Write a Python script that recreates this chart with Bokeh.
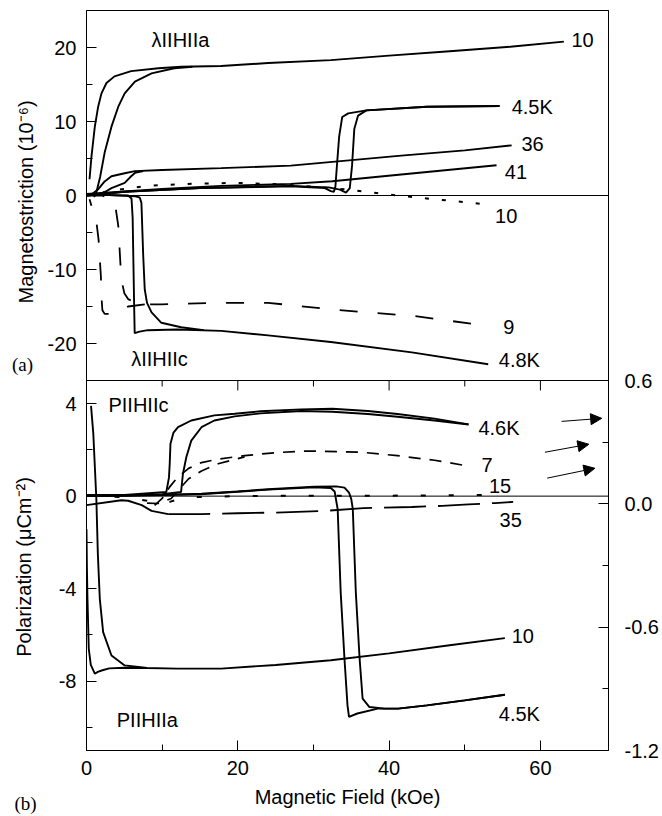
import numpy as np
from bokeh.plotting import figure
from bokeh.layouts import row
from bokeh.models import (Range1d, LinearAxis, FixedTicker, SingleIntervalTicker,
                          Span, Arrow, NormalHead, PrintfTickFormatter)
from bokeh.core.properties import value
from bokeh.embed import file_html
from bokeh.resources import INLINE

FONT = "Liberation Sans"
SERIF = "Liberation Serif"

# ================= (a) magnetostriction (10^-6) =================
# lambda || H || a, 10 K (two sweep branches)
la10_a_x = [0.4, 0.66, 1.1, 1.54, 1.98, 2.64, 3.7, 5.9, 9.5, 12.5, 17.8, 24, 32.3, 40, 48, 56, 63.1]
la10_a_y = [2.2, 5.3, 9.3, 12.0, 13.8, 15.2, 16.1, 16.8, 17.2, 17.4, 17.5, 17.9, 18.3, 18.9, 19.5, 20.1, 20.8]
la10_b_x = [1.0, 1.3, 1.8, 2.4, 3.3, 4.2, 5.05, 6.4, 8.6, 11.6, 14.0]
la10_b_y = [-0.2, 0.4, 2.5, 5.8, 9.3, 12.0, 13.8, 15.4, 16.5, 17.2, 17.4]
# lambda || H || a, 4.5 K
la45_up_x = [0, 5, 15, 27, 32, 33.5, 34.3, 34.8, 35.1, 35.4, 35.9, 37, 45, 54.6]
la45_up_y = [0, 0.5, 1.0, 1.3, 1.1, 0.8, 0.4, 1.0, 4.0, 9.0, 10.8, 11.5, 12.0, 12.1]
la45_dn_x = [54.6, 45, 37, 34.6, 33.8, 33.4, 33.1, 32.9, 32.7, 32.3, 31.5, 27, 15, 5, 0]
la45_dn_y = [12.1, 12.0, 11.5, 11.1, 10.6, 8.0, 4.0, 1.2, 0.5, 0.6, 1.0, 1.25, 1.0, 0.5, 0]
# lambda || H || a, 36 K
la36_a_x = [0.5, 1.5, 2.4, 3.3, 5.05, 6.4, 10, 17.8, 27, 32.5, 41.6, 50, 56.2]
la36_a_y = [0.0, 0.8, 1.9, 2.6, 3.0, 3.3, 3.45, 3.7, 4.04, 4.55, 5.39, 6.1, 6.78]
la36_b_x = [1.0, 2.5, 3.3, 5.05, 5.9, 6.4, 7.5]
la36_b_y = [0.0, 0.5, 1.0, 1.7, 2.6, 3.05, 3.3]
# lambda || H || a, 41 K
la41_x = [0, 5, 10, 17.8, 27, 32.5, 41.6, 54.2]
la41_y = [0.2, 0.55, 0.9, 1.3, 1.57, 1.93, 2.83, 4.08]
# dotted 10 K
la10d_x = [0, 3, 8, 14, 20, 26, 31, 35, 39.3, 44, 48, 52.9]
la10d_y = [0, 0.6, 1.3, 1.6, 1.7, 1.5, 1.1, 0.75, 0.2, -0.3, -0.7, -1.2]
# lambda || H || c, 4.8 K
lc48_a_x = [0, 3, 5.5, 5.95, 6.1, 6.2, 6.3, 6.37, 7, 8.1, 12, 17.8, 24, 32.3, 43, 53.1]
lc48_a_y = [0.1, 0.05, 0.0, -0.4, -3.0, -9.0, -15.0, -18.6, -18.4, -18.2, -18.1, -18.3, -18.9, -19.8, -21.2, -22.8]
lc48_b_x = [0, 3, 6.5, 7.05, 7.26, 7.5, 7.7, 8.0, 8.6, 9.9, 12.5, 15.5]
lc48_b_y = [0.1, 0.05, -0.1, -0.3, -1.0, -8.2, -12.7, -14.5, -15.8, -17.2, -17.8, -18.2]
# lambda || H || c, 9 K (dashed)
lc9_up_x = [0, 2, 3.5, 3.9, 4.2, 4.6, 5.0, 5.5, 6.5, 7.7, 10, 13.4, 18, 24, 32.4, 43.4, 52.9]
lc9_up_y = [0, 0, -0.5, -2.0, -4.1, -11.3, -13.2, -14.0, -14.5, -14.7, -14.7, -14.6, -14.5, -14.5, -15.4, -16.3, -17.6]
lc9_dn_x = [7.7, 5.5, 4.5, 3.5, 2.4, 2.1, 2.0, 1.9, 1.6, 1.3, 1.0, 0.66, 0.4]
lc9_dn_y = [-14.7, -15.0, -15.5, -16.0, -16.0, -15.5, -14.0, -10.9, -6.0, -3.5, -2.0, -1.4, -0.5]

# ================= (b) polarization (uC m^-2) =================
# P || H || c, 4.6 K
pc46_a_x = [0, 5, 10.55, 10.9, 11.0, 11.1, 11.5, 12.1, 13.85, 16.9, 19.6, 23, 28.4, 32.5, 37.2, 41.1, 46, 50.5]
pc46_a_y = [0.05, 0.05, 0.18, 0.8, 1.4, 2.27, 2.75, 2.98, 3.27, 3.49, 3.56, 3.67, 3.75, 3.78, 3.68, 3.55, 3.35, 3.1]
pc46_b_x = [0, 5, 10, 12.5, 12.75, 13.2, 13.85, 15.2, 16.9, 19.6, 23, 28.4, 32.5, 37.2, 41.1, 46, 50.5]
pc46_b_y = [0.0, 0.02, 0.08, 0.18, 0.97, 1.69, 2.4, 2.98, 3.27, 3.45, 3.58, 3.68, 3.65, 3.55, 3.43, 3.27, 3.1]
# P || H || c, 7 K (dashed)
pc7_a_x = [9.0, 10.0, 11.0, 12.0, 13.5, 15.2, 17.4, 20.9, 25, 29.2, 36.3, 41.1, 46, 50.5]
pc7_a_y = [-0.4, -0.1, 0.4, 0.8, 1.2, 1.45, 1.6, 1.75, 1.88, 1.95, 1.9, 1.75, 1.55, 1.3]
pc7_b_x = [8.0, 9.45, 11.2, 12.4, 13.5, 15.2, 17.4, 20.9]
pc7_b_y = [-0.3, -0.32, -0.1, 0.35, 0.75, 1.09, 1.4, 1.7]
# P || H || c, 15 K (dotted)
pc15_x = [0, 5, 8, 9.5, 11, 13, 20, 30, 40, 52.6]
pc15_y = [0.02, -0.05, -0.2, -0.35, -0.25, -0.05, 0.0, 0.02, 0.02, 0.05]
# P || H || c, 35 K (long dash)
pc35_x = [0, 4.6, 5.5, 7.3, 8.6, 10.8, 15.2, 20, 25, 31.4, 36.6, 43, 47, 50.5, 54, 56.4]
pc35_y = [-0.39, -0.18, -0.2, -0.39, -0.64, -0.78, -0.78, -0.74, -0.71, -0.64, -0.52, -0.47, -0.42, -0.36, -0.3, -0.25]
# P || H || a, 10 K
pa10_a_x = [0.6, 0.9, 1.3, 1.5, 1.76, 2.2, 3.3, 5.05, 8, 12, 17.8, 25, 32.3, 40, 48, 55.3]
pa10_a_y = [3.9, 2.7, -0.1, -2.5, -4.45, -5.88, -6.89, -7.32, -7.43, -7.46, -7.46, -7.3, -7.1, -6.8, -6.45, -6.14]
pa10_b_x = [0, 0.05, 0.13, 0.3, 0.57, 1.1, 1.5, 2.0, 3.0, 5, 8]
pa10_b_y = [-1.43, -3.0, -4.45, -6.6, -7.3, -7.68, -7.6, -7.54, -7.45, -7.42, -7.43]
# P || H || a, 4.5 K
pa45_up_x = [0, 10, 15.2, 20, 24, 30.1, 33.0, 34.1, 34.7, 35.0, 35.2, 35.6, 36.1, 36.5, 37.4, 39.4, 41.2, 45, 50, 55.3]
pa45_up_y = [0.0, 0.05, 0.1, 0.2, 0.3, 0.41, 0.42, 0.37, 0.15, -0.13, -0.56, -4.16, -7.03, -8.76, -9.12, -9.19, -9.19, -9.05, -8.83, -8.59]
pa45_dn_x = [55.3, 50, 45, 41.2, 38.5, 35.8, 34.7, 34.5, 34.1, 33.6, 33.2, 32.8, 32.3, 30.1, 24, 15, 5, 0]
pa45_dn_y = [-8.59, -8.83, -9.05, -9.19, -9.19, -9.4, -9.55, -9.05, -7.03, -4.16, -0.56, 0.2, 0.35, 0.38, 0.28, 0.08, 0.02, 0]

# ---- tick values ----
x_major_step = 20
lam_ticks = [-20, -10, 0, 10, 20]
lam_minor = [-15, -5, 5, 15]
pol_ticks = [-8, -4, 0, 4]
pol_minor = [-10, -6, -2, 2]
rt_ticks = [-1.2, -0.6, 0.0, 0.6]
rt_minor = [-0.9, -0.3, 0.3]
mid_ticks_major = [20, 40, 60]
mid_ticks_minor = [10, 30, 50]

# ---- curve labels ----
top_lab_text = ["10", "4.5K", "36", "41", "10", "9", "4.8K", "λIIHIIa", "λIIHIIc"]
top_lab_x = [64.1, 56.2, 57.5, 55.3, 54.0, 55.1, 54.5, 8.6, 5.9]
top_lab_y = [21.0, 12.0, 6.9, 3.2, -2.8, -17.8, -22.2, 21.0, -22.1]
bot_lab_text = ["4.6K", "7", "15", "35", "10", "4.5K", "PIIHIIc", "PIIHIIa"]
bot_lab_x = [51.8, 52.2, 53.2, 54.6, 56.2, 54.5, 2.9, 4.0]
bot_lab_y = [2.93, 1.33, 0.43, -1.03, -6.04, -9.44, 3.96, -9.7]
# arrows pointing to the right-hand axis (right-axis units)
arr_x0 = [62.8, 60.6, 60.9]
arr_y0 = [0.401, 0.251, 0.125]
arr_x1 = [68.1, 66.4, 67.2]
arr_y1 = [0.416, 0.290, 0.173]

# ---- left strip texts (page pixel positions) ----
side_text = ["Magnetostriction (10⁻⁶)", "Polarization (μCm⁻²)"]
side_x = [25, 23]
side_y = [202, 568]
tag_a_x, tag_a_y = [22], [365]

# ---- layout (page pixels) ----
W, H = 662, 816
SIDE_W = 44
SIDE_L = 6
FR_TOP, FR_BOT = 10, 752
BORDER_BOTTOM = H - FR_BOT

# ---- ranges: top panel occupies upper half, bottom panel lower half ----
LAM_LO, LAM_HI = -25, 25
POL_LO, POL_HI = -11, 5
RT_LO, RT_HI = -1.2, 0.6
lam_full = (LAM_LO - (LAM_HI - LAM_LO), LAM_HI)
pol_full = (POL_LO, POL_HI + (POL_HI - POL_LO))
rt_full = (RT_LO, RT_HI + (RT_HI - RT_LO))


def pol_to_lam(v):
    return lam_full[0] + (v - POL_LO) * (LAM_HI - LAM_LO) / (POL_HI - POL_LO)


p = figure(width=W - SIDE_W, height=H, x_range=Range1d(0, 69), y_range=Range1d(*lam_full),
           output_backend="svg", toolbar_location=None,
           min_border_left=85 - SIDE_W, min_border_right=54, min_border_top=FR_TOP,
           min_border_bottom=BORDER_BOTTOM,
           background_fill_color="white", border_fill_color="white")
p.extra_y_ranges = {"pol": Range1d(*pol_full), "rt": Range1d(*rt_full)}
p.grid.visible = False
p.outline_line_color = "black"
p.outline_line_width = 1

# x axis
xa = p.xaxis[0]
xa.ticker = SingleIntervalTicker(interval=x_major_step, num_minor_ticks=2)
xa.axis_label = "Magnetic Field (kOe)"
# left axis (both panels)
ya = p.yaxis[0]
left_major = [float(t) for t in lam_ticks] + [pol_to_lam(v) for v in pol_ticks]
left_minor = [float(t) for t in lam_minor] + [pol_to_lam(v) for v in pol_minor]
ya.ticker = FixedTicker(ticks=left_major, minor_ticks=left_minor)
ya.major_label_overrides = {pos: str(lab) for pos, lab in zip(left_major, lam_ticks + pol_ticks)}
# right axis
ra = LinearAxis(y_range_name="rt", ticker=FixedTicker(ticks=rt_ticks, minor_ticks=rt_minor),
                formatter=PrintfTickFormatter(format="%.1f"))
p.add_layout(ra, "right")

for ax in (xa, ya, ra):
    ax.major_tick_in = 10
    ax.major_tick_out = 0
    ax.minor_tick_in = 6
    ax.minor_tick_out = 0
    ax.axis_line_color = "black"
    ax.major_tick_line_color = "black"
    ax.minor_tick_line_color = "black"
    ax.major_label_text_font = FONT
    ax.major_label_text_font_size = "20px"
    ax.major_label_text_color = "black"
    ax.axis_label_text_font = FONT
    ax.axis_label_text_font_size = "20px"
    ax.axis_label_text_font_style = "normal"
    ax.axis_label_text_color = "black"
xa.major_label_standoff = 10
xa.axis_label_standoff = 8
ya.major_label_standoff = 10
ra.major_label_standoff = 16

# reference lines
p.add_layout(Span(location=0, dimension="width", line_color="black", line_width=1))
p.add_layout(Span(location=LAM_LO, dimension="width", line_color="black", line_width=1))
p.add_layout(Span(location=0, dimension="width", line_color="black", line_width=1, y_range_name="pol"))

# ticks of the shared middle axis (pointing down into panel b)
tick_major_len = 10 / 23.19
tick_minor_len = 6 / 23.19
p.segment(x0=mid_ticks_major, x1=mid_ticks_major, y0=[POL_HI] * 3, y1=[POL_HI - tick_major_len] * 3,
          y_range_name="pol", line_color="black", line_width=1)
p.segment(x0=mid_ticks_minor, x1=mid_ticks_minor, y0=[POL_HI] * 3, y1=[POL_HI - tick_minor_len] * 3,
          y_range_name="pol", line_color="black", line_width=1)

SOL = dict(line_color="black", line_width=1.9)
# panel (a)
for xs, ys in [(la10_a_x, la10_a_y), (la10_b_x, la10_b_y), (la45_up_x, la45_up_y), (la45_dn_x, la45_dn_y),
               (la36_a_x, la36_a_y), (la36_b_x, la36_b_y), (la41_x, la41_y),
               (lc48_a_x, lc48_a_y), (lc48_b_x, lc48_b_y)]:
    p.line(xs, ys, **SOL)
p.line(la10d_x, la10d_y, line_color="black", line_width=2, line_dash="4 13")
p.line(lc9_up_x, lc9_up_y, line_color="black", line_width=1.8, line_dash="18 20")
p.line(lc9_dn_x, lc9_dn_y, line_color="black", line_width=1.8, line_dash="18 20")

# panel (b)
for xs, ys in [(pc46_a_x, pc46_a_y), (pc46_b_x, pc46_b_y), (pa10_a_x, pa10_a_y), (pa10_b_x, pa10_b_y),
               (pa45_up_x, pa45_up_y), (pa45_dn_x, pa45_dn_y)]:
    p.line(xs, ys, y_range_name="pol", **SOL)
p.line(pc7_a_x, pc7_a_y, y_range_name="pol", line_color="black", line_width=1.7, line_dash="12 9")
p.line(pc7_b_x, pc7_b_y, y_range_name="pol", line_color="black", line_width=1.7, line_dash="12 9")
p.line(pc15_x, pc15_y, y_range_name="pol", line_color="black", line_width=2, line_dash="5 23")
k35 = sum(1 for v in pc35_x if v <= 11)
p.line(pc35_x[:k35], pc35_y[:k35], y_range_name="pol", **SOL)
p.line(pc35_x[k35 - 1:], pc35_y[k35 - 1:], y_range_name="pol", line_color="black", line_width=1.8,
       line_dash="42 12")

# arrows
for a, b, c, d in zip(arr_x0, arr_y0, arr_x1, arr_y1):
    p.add_layout(Arrow(end=NormalHead(size=11, fill_color="black", line_color="black"),
                       x_start=a, y_start=b, x_end=c, y_end=d, y_range_name="rt",
                       line_color="black", line_width=1))

# curve labels
p.text(x=top_lab_x, y=top_lab_y, text=top_lab_text, text_font=value(FONT), text_font_size="20px",
       text_align="left", text_baseline="middle", text_color="black")
p.text(x=bot_lab_x, y=bot_lab_y, text=bot_lab_text, text_font=value(FONT), text_font_size="20px",
       text_align="left", text_baseline="middle", text_color="black", y_range_name="pol")

# ---- left strip: rotated axis titles and panel tags ----
side = figure(width=SIDE_W, height=H, x_range=Range1d(SIDE_L, SIDE_W), y_range=Range1d(FR_BOT, FR_TOP),
              output_backend="svg", toolbar_location=None, x_axis_type=None, y_axis_type=None,
              min_border_left=SIDE_L, min_border_right=0, min_border_top=FR_TOP,
              min_border_bottom=BORDER_BOTTOM,
              background_fill_color="white", border_fill_color="white", outline_line_color=None)
side.grid.visible = False
side.text(x=side_x, y=side_y, text=side_text, angle=np.pi / 2, text_font=value(FONT),
          text_font_size="20px", text_align="center", text_baseline="middle", text_color="black")
side.text(x=tag_a_x, y=tag_a_y, text=["(a)"], text_font=value(SERIF), text_font_size="19px",
          text_align="center", text_baseline="middle", text_color="black")
# "(b)" sits below the frame: carried by an otherwise empty axis of the strip
tag_axis = LinearAxis(ticker=FixedTicker(ticks=[]), axis_label="(b)",
                      axis_line_color=None, major_tick_line_color=None, minor_tick_line_color=None,
                      major_label_standoff=0, axis_label_standoff=42,
                      axis_label_text_font=SERIF, axis_label_text_font_size="19px",
                      axis_label_text_font_style="normal", axis_label_text_color="black")
side.add_layout(tag_axis, "below")

layout = row(side, p, spacing=0)
open("out.html", "w").write(file_html(layout, INLINE))
